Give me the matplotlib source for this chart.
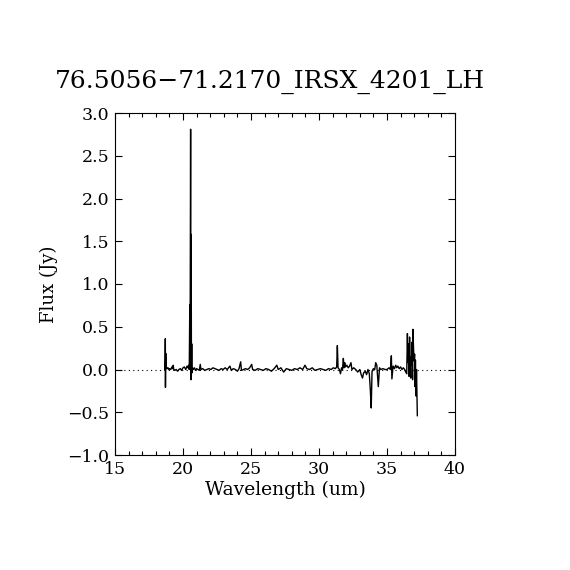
import matplotlib
matplotlib.use("Agg")
import matplotlib.pyplot as plt
from matplotlib.ticker import MultipleLocator, FuncFormatter

# spectrum (wavelength in um, flux in Jy)
wavelength = [
    18.66, 18.68, 18.70, 18.71, 18.73, 18.76, 18.80, 18.84, 18.90, 18.96,
    19.02, 19.10, 19.18, 19.24, 19.28, 19.32, 19.40, 19.50, 19.60, 19.70,
    19.80, 19.90, 20.00, 20.10, 20.20, 20.30, 20.36, 20.42, 20.46, 20.50,
    20.52, 20.56, 20.58, 20.60, 20.62, 20.64, 20.66, 20.70, 20.76, 20.84,
    20.92, 21.00, 21.10, 21.20, 21.27, 21.32, 21.45, 21.60, 21.75, 21.90,
    22.05, 22.20, 22.35, 22.50, 22.65, 22.80, 22.95, 23.10, 23.25, 23.45,
    23.55, 23.70, 23.85, 24.00, 24.12, 24.24, 24.30, 24.45, 24.60, 24.75,
    24.90, 25.05, 25.12, 25.30, 25.50, 25.70, 25.90, 26.10, 26.30, 26.50,
    26.70, 26.90, 27.00, 27.20, 27.40, 27.60, 27.80, 28.00, 28.20, 28.40,
    28.60, 28.80, 28.97, 29.10, 29.30, 29.50, 29.70, 29.90, 30.10, 30.30,
    30.50, 30.70, 30.90, 31.05, 31.20, 31.30, 31.35, 31.40, 31.50, 31.58,
    31.66, 31.73, 31.79, 31.84, 31.89, 31.95, 32.05, 32.15, 32.25, 32.35,
    32.42, 32.55, 32.70, 32.85, 33.00, 33.10, 33.20, 33.28, 33.40, 33.50,
    33.60, 33.70, 33.77, 33.84, 33.90, 34.00, 34.10, 34.17, 34.25, 34.36,
    34.45, 34.55, 34.70, 34.85, 35.00, 35.15, 35.25, 35.32, 35.36, 35.45,
    35.55, 35.64, 35.72, 35.80, 35.90, 36.00, 36.10, 36.20, 36.30, 36.38,
    36.45, 36.50, 36.54, 36.58, 36.62, 36.66, 36.70, 36.74, 36.76, 36.80,
    36.84, 36.88, 36.91, 36.95, 36.99, 37.03, 37.06, 37.09, 37.13, 37.17,
    37.20, 37.23,
]

flux = [
    0.00, 0.02, 0.36, -0.21, 0.19, 0.01, 0.02, 0.01, 0.02, 0.00,
    0.01, 0.00, 0.03, 0.01, 0.05, 0.00, -0.01, 0.00, -0.02, 0.00,
    0.01, -0.01, 0.02, 0.03, 0.00, 0.04, 0.02, 0.05, 0.00, 0.76,
    0.04, 2.81, -0.12, 1.58, 0.03, 0.30, -0.04, 0.02, 0.00, 0.02,
    -0.01, 0.01, 0.00, -0.01, 0.06, 0.00, 0.01, -0.01, 0.00, 0.01,
    0.00, 0.02, 0.01, 0.00, -0.01, 0.01, 0.00, 0.02, 0.00, 0.04,
    -0.01, 0.01, 0.00, -0.02, 0.01, 0.09, -0.01, 0.00, 0.01, 0.00,
    0.02, 0.06, 0.00, -0.01, 0.01, 0.00, -0.01, 0.01, 0.00, -0.02,
    0.01, 0.05, 0.00, 0.02, -0.03, 0.01, 0.00, -0.01, 0.01, 0.00,
    0.02, 0.00, 0.05, 0.01, 0.00, 0.02, -0.01, 0.00, 0.01, 0.00,
    -0.01, 0.01, 0.00, 0.02, 0.01, 0.03, 0.28, 0.02, 0.00, -0.05,
    0.02, 0.00, 0.13, 0.02, 0.08, 0.03, 0.05, 0.02, 0.04, 0.08,
    0.00, 0.02, 0.00, -0.03, 0.00, -0.06, -0.10, -0.04, -0.02, -0.06,
    0.00, -0.05, -0.23, -0.45, -0.02, 0.01, 0.00, 0.08, 0.05, -0.20,
    0.02, 0.00, 0.01, 0.00, 0.00, 0.02, 0.00, 0.16, -0.11, 0.04,
    0.01, 0.05, 0.02, 0.04, 0.01, 0.03, 0.00, 0.02, 0.00, -0.03,
    -0.05, 0.42, 0.08, 0.30, -0.08, 0.38, 0.10, -0.10, 0.15, 0.05,
    0.32, -0.12, 0.47, 0.25, 0.10, 0.18, -0.20, 0.11, -0.31, 0.00,
    -0.25, -0.54,
]

title = "76.5056\u221271.2170_IRSX_4201_LH"

plt.rcParams["font.family"] = ["DejaVu Serif"]

fig = plt.figure(figsize=(5.7, 5.7), dpi=100)
ax = fig.add_axes([115 / 570, 1 - 455 / 570, 340 / 570, 342 / 570])

ax.plot(wavelength, flux, color="black", linewidth=1.0)
ax.axhline(0.0, color="black", linewidth=0.8, linestyle=(0, (1, 3)))

ax.set_xlim(15, 40)
ax.set_ylim(-1.0, 3.0)
ax.xaxis.set_major_locator(MultipleLocator(5))
ax.xaxis.set_minor_locator(MultipleLocator(1))
ax.yaxis.set_major_locator(MultipleLocator(0.5))
ax.yaxis.set_major_formatter(FuncFormatter(lambda v, p: f"{v:.1f}".replace("-", "\u2212")))

ax.tick_params(which="both", direction="in", top=True, right=True,
               labelsize=12.5, width=0.8, pad=4)
ax.tick_params(which="major", length=5)
ax.tick_params(which="minor", length=3)
for s in ax.spines.values():
    s.set_linewidth(0.8)

ax.set_xlabel("Wavelength (um)", fontsize=13.5, labelpad=2)
ax.set_ylabel("Flux (Jy)", fontsize=13, labelpad=7)
# title sits a little left of the axes centre in the original
fig.text(270 / 570, 1 - 82 / 570, title, fontsize=18, ha="center", va="center")

fig.savefig("out.png", dpi=100)
